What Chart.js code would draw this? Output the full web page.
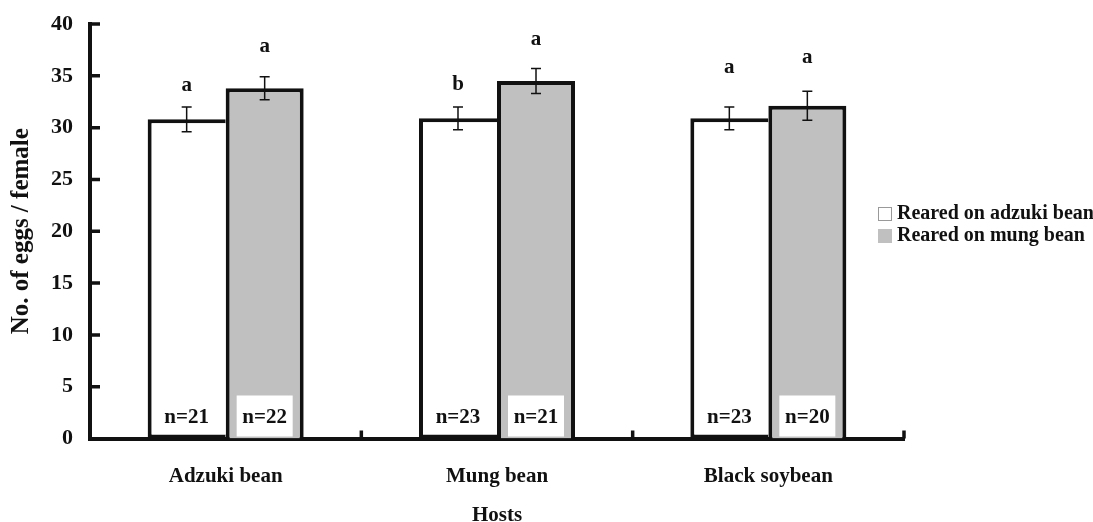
<!DOCTYPE html>
<html>
<head>
<meta charset="utf-8">
<script src="https://cdn.jsdelivr.net/npm/chart.js@4.4.0/dist/chart.umd.min.js"></script>
<style>
  html, body { margin: 0; padding: 0; background: #fff; }
</style>
</head>
<body>
<canvas id="chart" width="1093" height="522"></canvas>
<script>
const hosts = ["Adzuki bean", "Mung bean", "Black soybean"];
const seriesNames = ["Reared on adzuki bean", "Reared on mung bean"];
const adzukiReared = [30.8, 30.9, 30.9];
const mungReared = [33.8, 34.5, 32.1];
const adzukiErr = [1.2, 1.1, 1.1];
const mungErr = [1.1, 1.2, 1.4];
const adzukiLetters = ["a", "b", "a"];
const mungLetters = ["a", "a", "a"];
const adzukiLetterAt = [34.1, 34.2, 35.8];
const mungLetterAt = [37.8, 38.5, 36.8];
const adzukiN = [21, 23, 23];
const mungN = [22, 21, 20];
const yTicks = [0, 5, 10, 15, 20, 25, 30, 35, 40];

const serif = "'Liberation Serif', 'Times New Roman', serif";
const ink = "#111";
const grayFill = "#c0c0c0";

// error bars, letters, n= labels, inward ticks and the legend
const extras = {
    id: "extras",
    afterDatasetsDraw(chart) {
        const ctx = chart.ctx;
        const y = chart.scales.y;
        const area = chart.chartArea;
        ctx.save();
        chart.data.datasets.forEach((ds, di) => {
            const meta = chart.getDatasetMeta(di);
            meta.data.forEach((bar, i) => {
                const v = ds.data[i];
                const e = ds.err[i];
                const top = y.getPixelForValue(v + e);
                const bot = y.getPixelForValue(v - e);
                ctx.strokeStyle = ink;
                ctx.lineWidth = 1.5;
                ctx.beginPath();
                ctx.moveTo(bar.x, top); ctx.lineTo(bar.x, bot);
                ctx.moveTo(bar.x - 5, top); ctx.lineTo(bar.x + 5, top);
                ctx.moveTo(bar.x - 5, bot); ctx.lineTo(bar.x + 5, bot);
                ctx.stroke();

                ctx.fillStyle = ink;
                ctx.font = "bold 21px " + serif;
                ctx.textAlign = "center";
                ctx.textBaseline = "middle";
                ctx.fillText(ds.letters[i], bar.x, y.getPixelForValue(ds.letterAt[i]));

                if (di === 1) {
                    ctx.fillStyle = "#fff";
                    ctx.fillRect(bar.x - 28, area.bottom - 43, 56, 41);
                }
                ctx.fillStyle = ink;
                ctx.font = "bold 21px " + serif;
                ctx.fillText("n=" + ds.n[i], bar.x, area.bottom - 21);
            });
        });
        ctx.restore();
    },
    afterDraw(chart) {
        const ctx = chart.ctx;
        const y = chart.scales.y;
        const area = chart.chartArea;
        ctx.save();
        ctx.strokeStyle = ink;
        ctx.lineWidth = 3.5;
        ctx.beginPath();
        yTicks.forEach((t) => {
            if (t === 0) return;
            const py = y.getPixelForValue(t);
            ctx.moveTo(area.left, py); ctx.lineTo(area.left + 10, py);
        });
        const step = (area.right - area.left) / hosts.length;
        for (let k = 1; k <= hosts.length; k++) {
            const px = area.left + step * k;
            ctx.moveTo(px, area.bottom); ctx.lineTo(px, area.bottom - 8);
        }
        ctx.stroke();

        // legend
        ctx.font = "bold 20px " + serif;
        ctx.textAlign = "left";
        ctx.textBaseline = "middle";
        chart.data.datasets.forEach((ds, di) => {
            const ly = 214 + di * 22;
            ctx.fillStyle = ds.backgroundColor;
            ctx.fillRect(878, ly - 7, 14, 14);
            if (di === 0) {
                ctx.strokeStyle = "#999";
                ctx.lineWidth = 1;
                ctx.strokeRect(878.5, ly - 6.5, 13, 13);
            }
            ctx.fillStyle = ink;
            ctx.fillText(ds.label, 897, ly);
        });
        ctx.restore();
    }
};

const data = {
    labels: hosts,
    datasets: [
        {
            label: seriesNames[0],
            data: adzukiReared,
            err: adzukiErr,
            letters: adzukiLetters,
            letterAt: adzukiLetterAt,
            n: adzukiN,
            backgroundColor: "#ffffff",
            borderColor: ink,
            borderWidth: 4,
            borderSkipped: "right"
        },
        {
            label: seriesNames[1],
            data: mungReared,
            err: mungErr,
            letters: mungLetters,
            letterAt: mungLetterAt,
            n: mungN,
            backgroundColor: grayFill,
            borderColor: ink,
            borderWidth: 4,
            borderSkipped: "bottom"
        }
    ]
};

const config = {
    type: "bar",
    data: data,
    options: {
        responsive: false,
        animation: false,
        categoryPercentage: 0.575,
        barPercentage: 1,
        layout: { padding: { top: 24, right: 189, left: 0, bottom: 0 } },
        plugins: {
            legend: { display: false },
            tooltip: { enabled: false }
        },
        scales: {
            x: {
                grid: { display: false, drawTicks: false },
                border: { display: true, color: ink, width: 4 },
                ticks: {
                    color: ink,
                    padding: 25,
                    font: { family: serif, size: 21, weight: "bold" }
                },
                title: {
                    display: true,
                    text: "Hosts",
                    color: ink,
                    padding: { top: 0, bottom: -6 },
                    font: { family: serif, size: 21, weight: "bold" }
                },
                afterFit: (s) => { s.height = 83.5; }
            },
            y: {
                min: 0,
                max: 40,
                grid: { display: false, drawTicks: false },
                border: { display: true, color: ink, width: 4 },
                afterBuildTicks: (s) => { s.ticks = yTicks.map((v) => ({ value: v })); },
                ticks: {
                    color: ink,
                    padding: 17,
                    font: { family: serif, size: 22, weight: "bold" }
                },
                title: {
                    display: true,
                    text: "No. of eggs / female",
                    color: ink,
                    padding: { top: 7, bottom: 0 },
                    font: { family: serif, size: 25, weight: "bold" }
                },
                afterFit: (s) => {
                    s.width = 90;
                    s.paddingTop = 12;
                    s.paddingBottom = 0;
                }
            }
        }
    },
    plugins: [extras]
};

new Chart(document.getElementById("chart"), config);
</script>
</body>
</html>
